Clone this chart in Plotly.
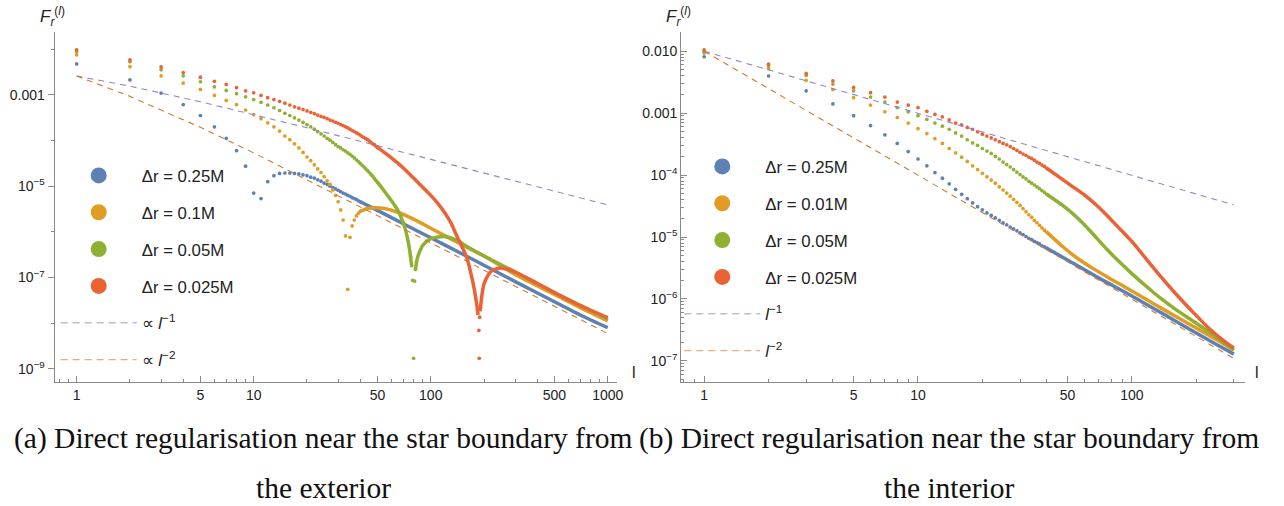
import plotly.graph_objects as go

# ---------------- data: panel (a) exterior ----------------
a_blue_dots_l = list(range(1, 41))
a_blue_dots = [4.79e-3, 2.14e-3, 1.10e-3, 6.17e-4, 3.55e-4, 2.00e-4, 1.12e-4, 6.03e-5, 2.75e-5, 7.08e-6,
               5.37e-6, 1.26e-5, 1.70e-5, 1.91e-5, 1.95e-5, 1.95e-5, 1.91e-5, 1.86e-5, 1.78e-5, 1.70e-5,
               1.58e-5, 1.51e-5, 1.38e-5, 1.29e-5, 1.17e-5, 1.10e-5, 1.00e-5, 9.33e-6, 8.71e-6, 8.13e-6,
               7.59e-6, 7.08e-6, 6.76e-6, 6.31e-6, 6.03e-6, 5.62e-6, 5.37e-6, 5.13e-6, 4.79e-6, 4.57e-6]
a_blue_curve_l = [40, 50, 70, 100, 150, 200, 300, 500, 700, 1000]
a_blue_curve = [4.57e-6, 2.95e-6, 1.51e-6, 7.41e-7, 3.31e-7, 1.86e-7, 8.13e-8, 2.95e-8, 1.51e-8, 7.94e-9]

a_orange_dots_l = list(range(1, 41))
a_orange_dots = [7.59e-3, 4.17e-3, 2.63e-3, 1.82e-3, 1.32e-3, 9.77e-4, 7.59e-4, 6.17e-4, 4.68e-4, 3.72e-4,
                 3.02e-4, 2.45e-4, 2.00e-4, 1.62e-4, 1.26e-4, 1.05e-4, 8.51e-5, 6.92e-5, 5.50e-5, 4.37e-5,
                 3.63e-5, 2.95e-5, 2.40e-5, 2.00e-5, 1.62e-5, 1.32e-5, 1.10e-5, 8.32e-6, 6.31e-6, 4.57e-6,
                 3.02e-6, 1.82e-6, 8.13e-7, 5.50e-8, 7.59e-7, 1.35e-6, 1.82e-6, 2.24e-6, 2.57e-6, 2.82e-6]
a_orange_curve_l = [40, 44, 48, 55, 65, 80, 100, 150, 200, 300, 500, 700, 1000]
a_orange_curve = [2.82e-6, 3.24e-6, 3.39e-6, 3.24e-6, 2.69e-6, 1.91e-6, 1.20e-6, 5.25e-7, 2.95e-7, 1.17e-7,
                  4.27e-8, 2.19e-8, 1.12e-8]

a_green_dots_l = list(range(1, 51)) + [77, 78, 79, 80, 81, 82, 83]
a_green_dots = [8.81e-3, 5.37e-3, 3.55e-3, 2.63e-3, 1.95e-3, 1.51e-3, 1.26e-3, 1.07e-3, 9.12e-4, 7.94e-4,
                6.92e-4, 6.03e-4, 5.25e-4, 4.57e-4, 3.98e-4, 3.55e-4, 3.16e-4, 2.82e-4, 2.51e-4, 2.24e-4,
                2.00e-4, 1.78e-4, 1.58e-4, 1.41e-4, 1.26e-4, 1.12e-4, 1.02e-4, 9.12e-5, 8.13e-5, 7.41e-5,
                6.92e-5, 6.31e-5, 5.89e-5, 5.37e-5, 5.01e-5, 4.57e-5, 4.17e-5, 3.80e-5, 3.47e-5, 3.16e-5,
                2.88e-5, 2.63e-5, 2.40e-5, 2.19e-5, 2.00e-5, 1.82e-5, 1.66e-5, 1.48e-5, 1.35e-5, 1.23e-5,
                2.82e-7, 1.82e-7, 8.71e-8, 1.70e-9, 8.32e-8, 1.51e-7, 2.19e-7]
a_green_curve_l = [50, 55, 60, 65, 70, 72, 74, 76, 78, None, 82, 84, 86, 88, 90, 95, 100,
                   110, 120, 140, 160, 200, 300, 500, 700, 1000]
a_green_curve = [1.23e-5, 7.59e-6, 4.79e-6, 3.02e-6, 1.58e-6, 1.12e-6, 7.08e-7, 3.98e-7, 1.82e-7, None,
                 1.51e-7, 2.63e-7, 3.47e-7, 4.27e-7, 5.01e-7, 6.17e-7, 7.08e-7, 7.76e-7, 7.94e-7, 6.61e-7,
                 4.79e-7, 2.95e-7, 1.32e-7, 4.68e-8, 2.45e-8, 1.23e-8]

a_red_dots_l = list(range(1, 51)) + [184, 187, 188, 189, 191]
a_red_dots = [9.77e-3, 5.89e-3, 4.12e-3, 3.09e-3, 2.45e-3, 2.00e-3, 1.70e-3, 1.45e-3, 1.23e-3, 1.12e-3,
              9.77e-4, 8.71e-4, 7.94e-4, 7.24e-4, 6.61e-4, 6.03e-4, 5.50e-4, 5.13e-4, 4.79e-4, 4.47e-4,
              4.17e-4, 3.89e-4, 3.63e-4, 3.39e-4, 3.24e-4, 3.02e-4, 2.82e-4, 2.69e-4, 2.51e-4, 2.40e-4,
              2.24e-4, 2.14e-4, 2.00e-4, 1.91e-4, 1.78e-4, 1.66e-4, 1.58e-4, 1.48e-4, 1.41e-4, 1.32e-4,
              1.23e-4, 1.17e-4, 1.10e-4, 1.05e-4, 9.77e-5, 9.12e-5, 8.51e-5, 8.13e-5, 7.59e-5, 7.08e-5,
              1.91e-8, 6.92e-9, 1.70e-9, 1.35e-8, 2.19e-8]
a_red_curve_l = [50, 60, 70, 80, 90, 100, 110, 120, 130, 140, 150, 160, 170, 175, 180, 183,
                 185, None, 190, 192, 195, 200, 210, 220, 235, 250, 270, 300, 400, 540, 700, 1000]
a_red_curve = [7.08e-5, 4.17e-5, 2.51e-5, 1.51e-5, 9.55e-6, 6.31e-6, 4.17e-6, 2.63e-6, 1.58e-6, 8.32e-7,
               4.79e-7, 2.69e-7, 1.07e-7, 6.31e-8, 3.39e-8, 2.19e-8, 1.51e-8, None, 1.82e-8, 2.63e-8,
               4.37e-8, 7.24e-8, 1.10e-7, 1.38e-7, 1.55e-7, 1.62e-7, 1.51e-7, 1.32e-7, 7.41e-8, 3.98e-8,
               2.40e-8, 1.32e-8]

a_pow_l = [1, 2, 5, 10, 20, 50, 100, 200, 500, 1000]
a_pow1 = [2.60e-3, 1.56e-3, 7.10e-4, 3.72e-4, 1.91e-4, 7.76e-5, 3.89e-5, 1.95e-5, 7.76e-6, 3.89e-6]
a_pow2 = [2.60e-3, 9.33e-4, 1.95e-4, 5.37e-5, 1.38e-5, 2.29e-6, 5.75e-7, 1.45e-7, 2.34e-8, 5.89e-9]

a_names = ["Δr = 0.25M", "Δr = 0.1M", "Δr = 0.05M", "Δr = 0.025M"]
a_line_names = ["∝ <i>l</i><sup>−1</sup>", "∝ <i>l</i><sup>−2</sup>"]

# ---------------- data: panel (b) interior ----------------
b_dots_l = list(range(1, 41))
b_blue_dots = [8.13e-3, 3.98e-3, 2.29e-3, 1.41e-3, 9.12e-4, 6.31e-4, 4.47e-4, 3.24e-4, 2.40e-4, 1.82e-4,
               1.41e-4, 1.10e-4, 8.91e-5, 7.24e-5, 5.89e-5, 4.90e-5, 4.17e-5, 3.55e-5, 3.09e-5, 2.75e-5,
               2.45e-5, 2.24e-5, 2.04e-5, 1.86e-5, 1.70e-5, 1.58e-5, 1.45e-5, 1.35e-5, 1.26e-5, 1.17e-5,
               1.10e-5, 1.02e-5, 9.55e-6, 9.12e-6, 8.51e-6, 8.13e-6, 7.76e-6, 7.24e-6, 6.92e-6, 6.61e-6]
b_blue_curve_l = [40, 50, 70, 100, 150, 200, 250, 300]
b_blue_curve = [6.61e-6, 4.27e-6, 2.19e-6, 1.12e-6, 5.01e-7, 2.82e-7, 1.82e-7, 1.29e-7]

b_orange_dots = [9.33e-3, 5.25e-3, 3.39e-3, 2.40e-3, 1.78e-3, 1.35e-3, 1.05e-3, 8.51e-4, 6.92e-4, 5.62e-4,
                 4.68e-4, 3.89e-4, 3.24e-4, 2.69e-4, 2.29e-4, 1.95e-4, 1.66e-4, 1.41e-4, 1.23e-4, 1.07e-4,
                 9.33e-5, 8.32e-5, 7.41e-5, 6.46e-5, 5.75e-5, 5.13e-5, 4.57e-5, 4.07e-5, 3.63e-5, 3.24e-5,
                 2.88e-5, 2.57e-5, 2.29e-5, 2.09e-5, 1.86e-5, 1.70e-5, 1.55e-5, 1.41e-5, 1.29e-5, 1.20e-5]
b_orange_curve_l = [40, 47, 55, 66, 80, 100, 130, 160, 200, 250, 300]
b_orange_curve = [1.20e-5, 7.24e-6, 4.68e-6, 3.09e-6, 2.09e-6, 1.35e-6, 7.94e-7, 5.25e-7, 3.39e-7, 2.19e-7, 1.48e-7]

b_green_dots = [9.77e-3, 5.75e-3, 4.07e-3, 2.95e-3, 2.29e-3, 1.82e-3, 1.51e-3, 1.23e-3, 1.05e-3, 9.12e-4,
                7.94e-4, 6.92e-4, 6.17e-4, 5.50e-4, 4.79e-4, 4.27e-4, 3.72e-4, 3.31e-4, 3.02e-4, 2.69e-4,
                2.45e-4, 2.24e-4, 2.00e-4, 1.82e-4, 1.62e-4, 1.48e-4, 1.35e-4, 1.23e-4, 1.12e-4, 1.02e-4,
                9.33e-5, 8.71e-5, 7.94e-5, 7.41e-5, 6.92e-5, 6.46e-5, 6.03e-5, 5.62e-5, 5.25e-5, 4.90e-5]
b_green_curve_l = [40, 50, 60, 69, 77, 85, 100, 122, 140, 162, 200, 233, 270, 300]
b_green_curve = [4.90e-5, 2.82e-5, 1.58e-5, 9.33e-6, 6.17e-6, 4.37e-6, 2.57e-6, 1.41e-6, 9.55e-7, 6.61e-7,
                 4.07e-7, 2.82e-7, 1.95e-7, 1.51e-7]

b_red_dots = [1.05e-2, 6.17e-3, 4.37e-3, 3.31e-3, 2.60e-3, 2.14e-3, 1.82e-3, 1.51e-3, 1.35e-3, 1.23e-3,
              1.07e-3, 9.55e-4, 8.71e-4, 7.76e-4, 6.92e-4, 6.46e-4, 5.89e-4, 5.50e-4, 5.01e-4, 4.57e-4,
              4.27e-4, 3.98e-4, 3.72e-4, 3.47e-4, 3.24e-4, 3.09e-4, 2.88e-4, 2.69e-4, 2.51e-4, 2.34e-4,
              2.19e-4, 2.09e-4, 1.95e-4, 1.86e-4, 1.74e-4, 1.62e-4, 1.55e-4, 1.45e-4, 1.38e-4, 1.29e-4]
b_red_curve_l = [40, 47, 53, 60, 67, 74, 82, 92, 100, 114, 136, 162, 194, 232, 277, 300]
b_red_curve = [1.29e-4, 8.71e-5, 6.46e-5, 4.79e-5, 3.47e-5, 2.51e-5, 1.74e-5, 1.15e-5, 8.51e-6, 4.90e-6,
               2.34e-6, 1.17e-6, 6.03e-7, 3.24e-7, 1.95e-7, 1.62e-7]

b_pow_l = [1, 10, 100, 300]
b_pow1 = [1.0e-2, 1.0e-3, 1.0e-4, 3.3e-5]
b_pow2 = [1.0e-2, 1.0e-4, 1.0e-6, 1.1e-7]

b_names = ["Δr = 0.25M", "Δr = 0.01M", "Δr = 0.05M", "Δr = 0.025M"]
b_line_names = ["<i>l</i><sup>−1</sup>", "<i>l</i><sup>−2</sup>"]

# tick labels
a_xtick_vals = [1, 5, 10, 50, 100, 500, 1000]
a_xtick_text = ["1", "5", "10", "50", "100", "500", "1000"]
a_xminor = [0.8, 0.9, 2, 3, 4, 6, 7, 8, 9, 20, 30, 40, 60, 70, 80, 90, 200, 300, 400, 600, 700, 800, 900]
a_ytick_vals = [1e-3, 1e-5, 1e-7, 1e-9]
a_ytick_text = ["0.001", "10<sup>−5</sup>", "10<sup>−7</sup>", "10<sup>−9</sup>"]
a_yminor = [1e-2, 1e-4, 1e-6, 1e-8]

b_xtick_vals = [1, 5, 10, 50, 100]
b_xtick_text = ["1", "5", "10", "50", "100"]
b_xminor = [0.8, 0.9, 2, 3, 4, 6, 7, 8, 9, 20, 30, 40, 60, 70, 80, 90, 200, 300]
b_ytick_vals = [1e-2, 1e-3, 1e-4, 1e-5, 1e-6, 1e-7]
b_ytick_text = ["0.010", "0.001", "10<sup>−4</sup>", "10<sup>−5</sup>", "10<sup>−6</sup>", "10<sup>−7</sup>"]
b_yminor = [m * 10.0 ** e for e in range(-8, -1) for m in (2, 3, 4, 5, 6, 7, 8, 9)]

# ---------------- styling ----------------
COLORS = ["#5E81B5", "#E19C24", "#8FB032", "#EB6235"]
POW_COLORS = ["#8E88CB", "#D4782F"]
AXIS_COL = "#8a8a8a"
DOT = 3.7
CURVE_W = 3.5

fig = go.Figure()


def add_panel(xa, ya, leg, dots, curves, pow_l, pows, names, line_names):
    for (dl, dv), (cl, cv), col in zip(dots, curves, COLORS):
        fig.add_trace(go.Scatter(x=cl, y=cv, mode="lines",
                                 line=dict(color=col, width=CURVE_W, shape="spline", smoothing=0.8),
                                 connectgaps=False, showlegend=False, hoverinfo="skip",
                                 xaxis=xa, yaxis=ya))
        fig.add_trace(go.Scatter(x=dl, y=dv, mode="markers", marker=dict(color=col, size=DOT),
                                 showlegend=False, xaxis=xa, yaxis=ya))
    for pv, col in zip(pows, POW_COLORS):
        fig.add_trace(go.Scatter(x=pow_l, y=pv, mode="lines",
                                 line=dict(color=col, width=1.1, dash="6px,5px"),
                                 showlegend=False, xaxis=xa, yaxis=ya))
    # legend entries
    for i, (nm, col) in enumerate(zip(names, COLORS)):
        fig.add_trace(go.Scatter(x=[None], y=[None], mode="markers", name=nm,
                                 marker=dict(color=col, size=16), legend=leg,
                                 legendgroup=leg + str(i), xaxis=xa, yaxis=ya))
    for j, (nm, col) in enumerate(zip(line_names, POW_COLORS)):
        fig.add_trace(go.Scatter(x=[None], y=[None], mode="lines", name=nm,
                                 line=dict(color=col, width=1.4, dash="7px,5px"), opacity=0.6,
                                 legend=leg, legendgroup=leg + "p" + str(j), xaxis=xa, yaxis=ya))


add_panel("x", "y", "legend",
          [(a_blue_dots_l, a_blue_dots), (a_orange_dots_l, a_orange_dots), (a_green_dots_l, a_green_dots),
           (a_red_dots_l, a_red_dots)],
          [(a_blue_curve_l, a_blue_curve), (a_orange_curve_l, a_orange_curve),
           (a_green_curve_l, a_green_curve), (a_red_curve_l, a_red_curve)],
          a_pow_l, [a_pow1, a_pow2], a_names, a_line_names)

add_panel("x2", "y2", "legend2",
          [(b_dots_l, b_blue_dots), (b_dots_l, b_orange_dots), (b_dots_l, b_green_dots),
           (b_dots_l, b_red_dots)],
          [(b_blue_curve_l, b_blue_curve), (b_orange_curve_l, b_orange_curve),
           (b_green_curve_l, b_green_curve), (b_red_curve_l, b_red_curve)],
          b_pow_l, [b_pow1, b_pow2], b_names, b_line_names)

W, H = 1284, 506
YDOM = [124 / H, 474 / H]


def axis(domain, rng, tv, tt, minor_vals, ticks, anchor):
    return dict(type="log", domain=domain, range=rng, anchor=anchor, showline=True,
                linecolor=AXIS_COL, linewidth=1.2, showgrid=False, zeroline=False,
                ticks=ticks, ticklen=6, tickwidth=1, tickcolor=AXIS_COL,
                tickmode="array", tickvals=tv, ticktext=tt,
                tickfont=dict(size=14, color="#222"),
                minor=dict(tickmode="array", tickvals=minor_vals, ticks=ticks, ticklen=3,
                           tickwidth=1, tickcolor=AXIS_COL, showgrid=False))


legend_common = dict(bgcolor="rgba(0,0,0,0)", borderwidth=0, font=dict(size=16.8, color="#222"),
                     tracegroupgap=12, itemwidth=76, xanchor="left", yanchor="top")

fig.update_layout(
    width=W, height=H, margin=dict(l=0, r=0, t=0, b=0),
    paper_bgcolor="white", plot_bgcolor="white",
    font=dict(family="Liberation Sans, Arial, sans-serif", size=14, color="#222"),
    xaxis=axis([55 / W, 620 / W], [-0.124, 3.05], a_xtick_vals, a_xtick_text, a_xminor, "inside", "y"),
    yaxis=axis(YDOM, [-9.29, -1.62], a_ytick_vals, a_ytick_text, a_yminor, "outside", "x"),
    xaxis2=axis([685 / W, 1252 / W], [-0.107, 2.53], b_xtick_vals, b_xtick_text, b_xminor, "inside", "y2"),
    yaxis2=axis(YDOM, [-7.34, -1.69], b_ytick_vals, b_ytick_text, b_yminor, "inside", "x2"),
    legend=dict(x=56 / W, y=1 - 158 / H, **legend_common),
    legend2=dict(x=683 / W, y=1 - 149 / H, **legend_common),
    showlegend=True,
)

ann = []
for xl in (38, 668):
    ann.append(dict(text="<i>F<sub>r</sub></i><sup>(<i>l</i>)</sup>", x=xl / W, y=1 - 16 / H, xref="paper",
                    yref="paper", xanchor="left", yanchor="middle", showarrow=False, font=dict(size=17)))
for xl in (637, 1268):
    ann.append(dict(text="l", x=xl / W, y=1 - 383 / H, xref="paper", yref="paper", showarrow=False,
                    font=dict(size=16)))
cap_font = dict(family="Liberation Serif, DejaVu Serif, serif", size=29.5, color="#111")
for txt, xc, yc in [("(a) Direct regularisation near the star boundary from", 325, 438),
                    ("the exterior", 325, 488),
                    ("(b) Direct regularisation near the star boundary from", 954, 438),
                    ("the interior", 954, 488)]:
    ann.append(dict(text=txt, x=xc / W, y=1 - yc / H, xref="paper", yref="paper", showarrow=False,
                    xanchor="center", yanchor="middle", font=cap_font))
fig.update_layout(annotations=ann)

fig.write_html("out.html")
